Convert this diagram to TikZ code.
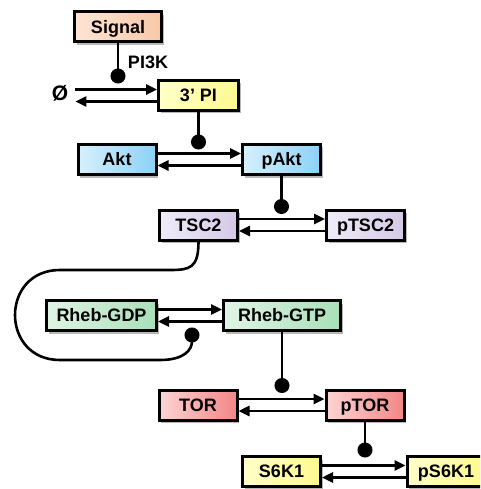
\documentclass[tikz,border=0pt]{standalone}
\usepackage{fontspec}
\setmainfont{Liberation Sans}
\usetikzlibrary{arrows.meta,shadows,calc}
\definecolor{sigL}{HTML}{FDE4D4}\definecolor{sigR}{HTML}{F9C8A8}
\definecolor{yelL}{HTML}{FFFFC8}\definecolor{yelR}{HTML}{FFF990}
\definecolor{bluL}{HTML}{D6F0FD}\definecolor{bluR}{HTML}{8CD1F6}
\definecolor{purL}{HTML}{F0ECF8}\definecolor{purR}{HTML}{D3C9E7}
\definecolor{grnL}{HTML}{E0F4E5}\definecolor{grnR}{HTML}{A8E0B8}
\definecolor{redL}{HTML}{FDD4D4}\definecolor{redR}{HTML}{F38686}
\begin{document}
\begin{tikzpicture}[x=1pt,y=-1pt,
  box/.style={draw=black, line width=3pt, minimum width=#1, minimum height=30pt,
    inner sep=0pt, text height=12.8pt, text depth=0pt,
    font=\fontsize{18}{21}\selectfont\bfseries,
    drop shadow={shadow xshift=2pt, shadow yshift=-3pt, opacity=0.28, fill=black}},
  box/.default=78pt,
  sig/.style={left color=sigL, right color=sigR},
  yel/.style={left color=yelL, right color=yelR},
  blu/.style={left color=bluL, right color=bluR},
  pur/.style={left color=purL, right color=purR},
  grn/.style={left color=grnL, right color=grnR},
  red/.style={left color=redL, right color=redR},
  fwd/.style={line width=2.6pt, -{Triangle[length=11pt,width=10pt]}},
  cat/.style={line width=2.6pt, -{Circle[length=15pt]}},
  lbl/.style={inner sep=0pt, font=\fontsize{18}{21}\selectfont\bfseries}
]
\useasboundingbox (0,0) rectangle (480,489);
\clip (0,0) rectangle (480,489);

% nodes
\node[box=87pt, sig] (Signal) at (118,27) {Signal};
\node[lbl] (PI3K) at (148,62) {PI3K};
\node[inner sep=0pt, font=\fontsize{21}{24}\selectfont\bfseries] (O) at (60,93) {Ø};
\node[box=80pt, yel] (PI) at (198.5,95.5) {3’ PI};
\node[box, blu] (Akt) at (117,159.5) {Akt};
\node[box, blu] (pAkt) at (281.5,159.5) {pAkt};
\node[box, pur] (TSC2) at (198.5,225) {TSC2};
\node[box, pur] (pTSC2) at (365.5,225) {pTSC2};
\node[box=110pt, grn] (GDP) at (101.5,315.5) {Rheb-GDP};
\node[box=117pt, grn] (GTP) at (282,315.5) {Rheb-GTP};
\node[box, red] (TOR) at (198,405) {TOR};
\node[box, red] (pTOR) at (365,405) {pTOR};
\node[box, yel] (S6K1) at (281.5,471.5) {S6K1};
\node[box, yel] (pS6K1) at (446,471.5) {pS6K1};

% reversible reactions
\coordinate (pia) at ([yshift=6pt]PI.west);
\coordinate (pib) at ([yshift=-6pt]PI.west);
\draw[fwd] ($(O.east |- pia)+(7,0)$) -- (pia);
\draw[fwd] (pib) -- ($(O.east |- pib)+(7,0)$);

\foreach \a/\b in {Akt/pAkt, TSC2/pTSC2, GDP/GTP, TOR/pTOR, S6K1/pS6K1}{
  \draw[fwd] ([yshift=6pt]\a.east) -- ([yshift=6pt]\b.west);
  \draw[fwd] ([yshift=-6pt]\b.west) -- ([yshift=-6pt]\a.east);
}

% catalysis / activation
\coordinate (k1) at (118,83.5);
\coordinate (k2) at (198.5,149.5);
\coordinate (k3) at (281.5,214);
\coordinate (k4) at (282,393);
\coordinate (k5) at (365,457.5);
\coordinate (k6) at (192,327.5);
\draw[cat] (Signal.south) -- (k1);
\draw[cat] (PI.south) -- (k2);
\draw[cat] (pAkt.south) -- (k3);
\draw[cat] (GTP.south) -- (k4);
\draw[cat] (pTOR.south) -- (k5);
\draw[cat] (TSC2.south) .. controls (198.5,268) and (190,270) .. (170,270)
  -- (60,270) .. controls (0,270) and (0,360) .. (60,360)
  -- (160,360) .. controls (184,360) and (192,350) .. (k6);
\end{tikzpicture}
\end{document}
